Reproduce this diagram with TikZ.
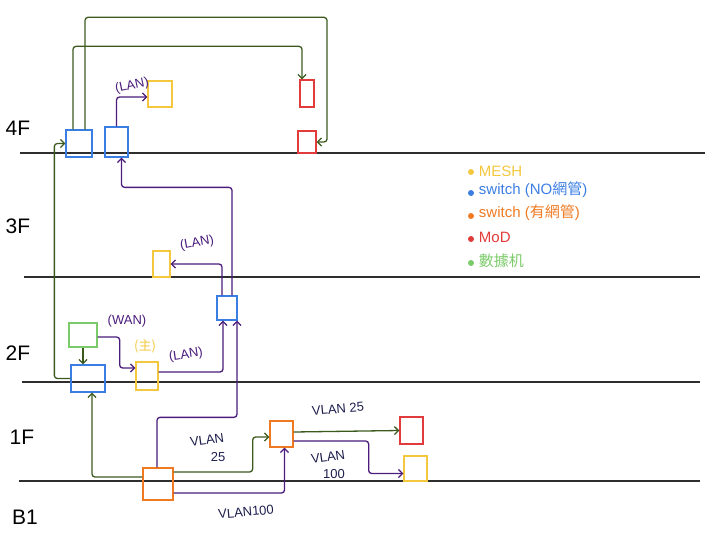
\documentclass[tikz,border=0pt]{standalone}
\usepackage{fontspec}
\setmainfont{Liberation Sans}
\newfontfamily\cjk{Noto Sans CJK TC}
\usetikzlibrary{arrows.meta}

\definecolor{meshyellow}{HTML}{F3C73E}
\definecolor{swblue}{HTML}{3B7EE3}
\definecolor{sworange}{HTML}{EF7A22}
\definecolor{modred}{HTML}{E23B3B}
\definecolor{modemgreen}{HTML}{7CCB6A}
\definecolor{wiregreen}{HTML}{3C5A1E}
\definecolor{wirepurple}{HTML}{4B1C7C}
\definecolor{vlannavy}{HTML}{1E1E4E}
\definecolor{floorgray}{HTML}{2E2E2E}

\begin{document}
\begin{tikzpicture}[x=1pt, y=-1pt, line width=1.3pt,
  devbox/.style={draw, rectangle, inner sep=0pt},
  meshbox/.style={devbox, draw=meshyellow},
  swplain/.style={devbox, draw=swblue},
  swmanaged/.style={devbox, draw=sworange},
  modbox/.style={devbox, draw=modred},
  modembox/.style={devbox, draw=modemgreen},
  gline/.style={draw=wiregreen, rounded corners=3pt, -{Straight Barb[length=4pt,width=8pt]}},
  pline/.style={draw=wirepurple, rounded corners=3pt, -{Straight Barb[length=4pt,width=8pt]}},
  tag/.style={text=wirepurple, font=\fontsize{13}{13}\selectfont},
  vlan/.style={text=vlannavy, font=\fontsize{13}{13}\selectfont, inner sep=1pt},
  floorlbl/.style={font=\fontsize{21}{21}\selectfont},
  legend/.style={anchor=west, font=\fontsize{15}{15}\selectfont}]
  \useasboundingbox (0,0) rectangle (720,551);

  \draw[floorgray, line width=1.4pt] (20,153) -- (705,153);
  \draw[floorgray, line width=1.4pt] (24,277) -- (700,277);
  \draw[floorgray, line width=1.4pt] (22,382) -- (700,382);
  \draw[floorgray, line width=1.4pt] (19,481) -- (700,481);

  \node[floorlbl] (fl-4) at (18,128) {4F};
  \node[floorlbl] (fl-3) at (18,226) {3F};
  \node[floorlbl] (fl-2) at (18,353) {2F};
  \node[floorlbl] (fl-1) at (22,437) {1F};
  \node[floorlbl] (fl-b1) at (25,517) {B1};

  \node[swplain, minimum width=26pt, minimum height=27pt] (sw-4a) at (79,143.5) {};
  \node[swplain, minimum width=23pt, minimum height=30pt] (sw-4b) at (116.5,142) {};
  \node[meshbox, minimum width=24pt, minimum height=26pt] (mesh-4) at (160,94) {};
  \node[modbox, minimum width=14pt, minimum height=27pt] (mod-4a) at (307,93.5) {};
  \node[modbox, minimum width=18pt, minimum height=22pt] (mod-4b) at (307,142) {};
  \node[meshbox, minimum width=17pt, minimum height=26pt] (mesh-3) at (161.5,264) {};
  \node[swplain, minimum width=20pt, minimum height=24pt] (sw-2c) at (227,308) {};
  \node[modembox, minimum width=28pt, minimum height=24pt] (modem) at (83,335) {};
  \node[swplain, minimum width=34pt, minimum height=27pt] (sw-2) at (88,378.5) {};
  \node[meshbox, minimum width=22pt, minimum height=28pt] (mesh-2) at (147,376) {};
  \node[swmanaged, minimum width=30pt, minimum height=32pt] (sw-b1) at (158,484) {};
  \node[swmanaged, minimum width=23pt, minimum height=26pt] (sw-1) at (281.5,434) {};
  \node[modbox, minimum width=23pt, minimum height=27pt] (mod-1) at (411.5,430.5) {};
  \node[meshbox, minimum width=23pt, minimum height=25pt] (mesh-1) at (415.5,468.5) {};

  \draw[gline] ([yshift=7pt]sw-b1.west) -| ([xshift=4pt]sw-2.south);
  \draw[gline] (modem.south) -- (modem.south |- sw-2.north);
  \draw[gline] (sw-2.west) -- ++(-16,0) |- (sw-4a.west);
  \draw[gline] ([xshift=-6pt]sw-4a.north) -- ++(0,-83) -| ([xshift=-5pt]mod-4a.north);
  \draw[gline] ([xshift=6pt]sw-4a.north) -- ++(0,-112) -- ++(242,0) |- (mod-4b.east);
  \draw[gline] ([yshift=12pt]sw-b1.east) -- ++(79,0) |- ([yshift=-3pt]sw-1.west);
  \draw[gline] ([yshift=2pt]sw-1.east) -- (mod-1.west);

  \draw[pline] ([xshift=-1pt]sw-b1.north) -- ++(0,-50) -| ([xshift=10pt]sw-2c.south);
  \draw[pline] ([yshift=4pt]mesh-2.east) -| ([xshift=-4pt]sw-2c.south);
  \draw[pline] ([yshift=-2pt]modem.east) -- ++(22,0) |- ([yshift=8pt]mesh-2.west);
  \draw[pline] ([xshift=5pt]sw-2c.north) -- ++(0,-108) -| ([xshift=5pt]sw-4b.south);
  \draw[pline] ([xshift=-5pt]sw-2c.north) |- (mesh-3.east);
  \draw[pline] (sw-4b.north) |- ([yshift=-3pt]mesh-4.west);
  \draw[pline] ([yshift=-9pt]sw-b1.east) -| ([xshift=3pt]sw-1.south);
  \draw[pline] ([yshift=-7pt]sw-1.east) -- ++(75,0) |- ([yshift=-5pt]mesh-1.west);

  \node[tag, rotate=12] (lan-4) at (132,86) {(LAN)};
  \node[tag, rotate=10] (lan-3) at (197,243) {(LAN)};
  \node[tag] (wan-2) at (127,321) {(WAN)};
  \node[text=meshyellow, font=\cjk\fontsize{13}{13}\selectfont] (main-2) at (145,346) {(主)};
  \node[tag, rotate=8] (lan-2) at (186,355) {(LAN)};
  \node[vlan, rotate=5] (vlan-25a) at (338,409) {VLAN 25};
  \node[vlan, rotate=8] (vlan-25b) at (207,440) {VLAN};
  \node[vlan] (vlan-25c) at (218,457) {25};
  \node[vlan, rotate=8] (vlan-100a) at (328,457) {VLAN};
  \node[vlan] (vlan-100c) at (334,474) {100};
  \node[vlan, rotate=5] (vlan-100b) at (246,512) {VLAN100};

  \fill[meshyellow] (471,172) circle (3pt);
  \node[legend, text=meshyellow] (leg-mesh) at (475,171) {MESH};
  \fill[swblue] (471,193) circle (3pt);
  \node[legend, text=swblue] (leg-plain) at (475,190) {switch (NO{\cjk 網管})};
  \fill[sworange] (471,216) circle (3pt);
  \node[legend, text=sworange] (leg-managed) at (475,213) {switch ({\cjk 有網管})};
  \fill[modred] (471,239) circle (3pt);
  \node[legend, text=modred] (leg-mod) at (475,237) {MoD};
  \fill[modemgreen] (471,263) circle (3pt);
  \node[legend, text=modemgreen] (leg-modem) at (475,261) {\cjk 數據机};
\end{tikzpicture}
\end{document}
